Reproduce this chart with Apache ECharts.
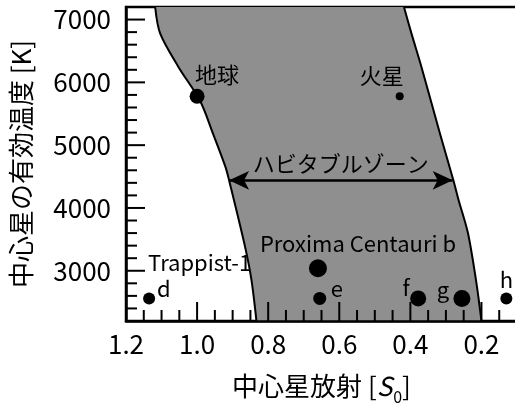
<!DOCTYPE html>
<html>
<head>
<meta charset="utf-8">
<script src="https://cdn.jsdelivr.net/npm/echarts@6/dist/echarts.min.js"></script>
<style>
  html, body { margin: 0; padding: 0; background: #fff; }
  #hz { width: 515px; height: 405px; }
</style>
</head>
<body>
<div id="hz"></div>
<script>
// habitable zone edges, [stellar flux S0, effective temperature K]
var innerEdge = [[1.118, 7200], [1.104, 6780], [1.053, 6250], [0.992, 5710], [0.955, 5180],
                 [0.92, 4650], [0.91, 4440], [0.865, 3380], [0.847, 2850], [0.833, 2200]];
var outerEdge = [[0.418, 7200], [0.397, 6780], [0.369, 6250], [0.317, 5190], [0.279, 4440],
                 [0.264, 4120], [0.238, 3600], [0.214, 2800], [0.2, 2200]];

// planets
var planetNames = ['地球', '火星', 'Proxima Centauri b', 'd', 'e', 'f', 'g', 'h'];
var planetFlux  = [1.0, 0.43, 0.66, 1.135, 0.655, 0.378, 0.255, 0.13];
var planetTemp  = [5778, 5778, 3040, 2559, 2559, 2559, 2559, 2559];

// arrow across the zone
var arrowFrom = [0.91, 4440];
var arrowTo = [0.281, 4440];
var arrowText = 'ハビタブルゾーン';

// axis range + ticks
var xMin = 0.1, xMax = 1.2, yMin = 2200, yMax = 7200;
var xLabels = [1.2, 1.0, 0.8, 0.6, 0.4, 0.2];
var xMinor = [1.15, 1.1, 1.05, 0.95, 0.9, 0.85, 0.75, 0.7, 0.65, 0.55, 0.5, 0.45, 0.35, 0.3, 0.25, 0.15];
var yLabels = [3000, 4000, 5000, 6000, 7000];
var yMinor = [2400, 2600, 2800, 3200, 3400, 3600, 3800, 4200, 4400, 4600, 4800,
              5200, 5400, 5600, 5800, 6200, 6400, 6600, 6800];

// look of the dots / labels (px)
var dotSize = [15, 8, 18, 12, 13, 16, 17, 12];
var labelOffset = [[20, -22], [-18, -21], [40, -25], [-1, -23], [17, -10], [-12, -11], [-19, -9], [0, -19]];

var font = 'Noto Sans CJK JP';
var ink = '#000';

var chart = echarts.init(document.getElementById('hz'));

var planets = planetNames.map(function (n, i) {
  var lab = {
    show: true, position: 'inside', offset: labelOffset[i],
    formatter: n, color: ink, fontSize: 22, fontFamily: font
  };
  if (n === 'd') {
    lab.formatter = '{t|Trappist-1}\n{d|d}';
    lab.align = 'left';
    lab.rich = {
      t: { fontSize: 22, lineHeight: 26, fontFamily: font, color: ink },
      d: { fontSize: 22, lineHeight: 26, fontFamily: font, color: ink, padding: [0, 0, 0, 9] }
    };
  }
  return { value: [planetFlux[i], planetTemp[i]], symbolSize: dotSize[i], label: lab };
});

// inward ticks, drawn over the shaded zone
function tickLines(api) {
  var out = [];
  function add(vals, len, isX) {
    vals.forEach(function (v) {
      var p = isX ? api.coord([v, yMin]) : api.coord([xMax, v]);
      var s = isX ? [p[0], p[1] - len] : [p[0] + len, p[1]];
      out.push({ type: 'line', shape: { x1: p[0], y1: p[1], x2: s[0], y2: s[1] },
                 style: { stroke: '#000', lineWidth: 2 } });
    });
  }
  add(xLabels, 19, true);
  add(xMinor, 11, true);
  add(yLabels, 19, false);
  add(yMinor, 11, false);
  return out;
}

var option = {
  backgroundColor: '#fff',
  animation: false,
  grid: { left: 126, top: 7, right: -2, bottom: 84, outerBoundsMode: 'none',
          show: true, borderColor: '#000', borderWidth: 2.5 },
  xAxis: {
    type: 'value', min: xMin, max: xMax, inverse: true, position: 'bottom', z: 10,
    axisLine: { show: true, lineStyle: { color: '#000', width: 2.5 } },
    axisTick: { show: false },
    axisLabel: { show: true, customValues: xLabels, margin: 10, fontSize: 26, fontFamily: font, color: ink,
                 formatter: function (v) { return v.toFixed(1); } },
    splitLine: { show: false },
    name: '中心星放射 [{i|S}{s|0}]', nameLocation: 'middle', nameGap: 52,
    nameTextStyle: { fontSize: 26, fontFamily: font, color: ink,
      rich: {
        i: { fontSize: 26, fontStyle: 'italic', fontFamily: font, color: ink },
        s: { fontSize: 16, fontFamily: font, color: ink, verticalAlign: 'top', lineHeight: 16, padding: [16, 0, 0, 1] }
      } }
  },
  yAxis: {
    type: 'value', min: yMin, max: yMax, position: 'left', z: 10,
    axisLine: { show: true, lineStyle: { color: '#000', width: 2.5 } },
    axisTick: { show: false },
    axisLabel: { show: true, customValues: yLabels, margin: 15, fontSize: 26, fontFamily: font, color: ink,
                 formatter: function (v) { return String(v); } },
    splitLine: { show: false },
    name: '中心星の有効温度 [K]', nameLocation: 'middle', nameGap: 92,
    nameTextStyle: { fontSize: 26, fontFamily: font, color: ink }
  },
  series: [
    {
      type: 'custom',
      clip: true,
      silent: true,
      data: [0],
      renderItem: function (params, api) {
        var L = innerEdge.map(function (p) { return api.coord(p); });
        var R = outerEdge.map(function (p) { return api.coord(p); });
        return {
          type: 'group',
          children: [
            { type: 'polygon', shape: { points: L.concat(R.slice().reverse()) },
              style: { fill: '#8f8f8f', stroke: null } },
            { type: 'polyline', shape: { points: L, smooth: 0.3 },
              style: { fill: null, stroke: '#000', lineWidth: 2 } },
            { type: 'polyline', shape: { points: R, smooth: 0.3 },
              style: { fill: null, stroke: '#000', lineWidth: 2 } }
          ].concat(tickLines(api))
        };
      }
    },
    {
      type: 'scatter',
      symbol: 'circle',
      itemStyle: { color: '#000', opacity: 1 },
      data: planets,
      markLine: {
        silent: true,
        symbol: ['arrow', 'arrow'],
        symbolSize: [14, 20],
        lineStyle: { color: '#000', width: 2.5, type: 'solid', opacity: 1 },
        label: { show: true, position: 'insideMiddleTop', distance: 6, formatter: arrowText,
                 fontSize: 22, fontFamily: font, color: ink },
        data: [[{ coord: arrowFrom }, { coord: arrowTo }]]
      }
    }
  ]
};

chart.setOption(option);
</script>
</body>
</html>
